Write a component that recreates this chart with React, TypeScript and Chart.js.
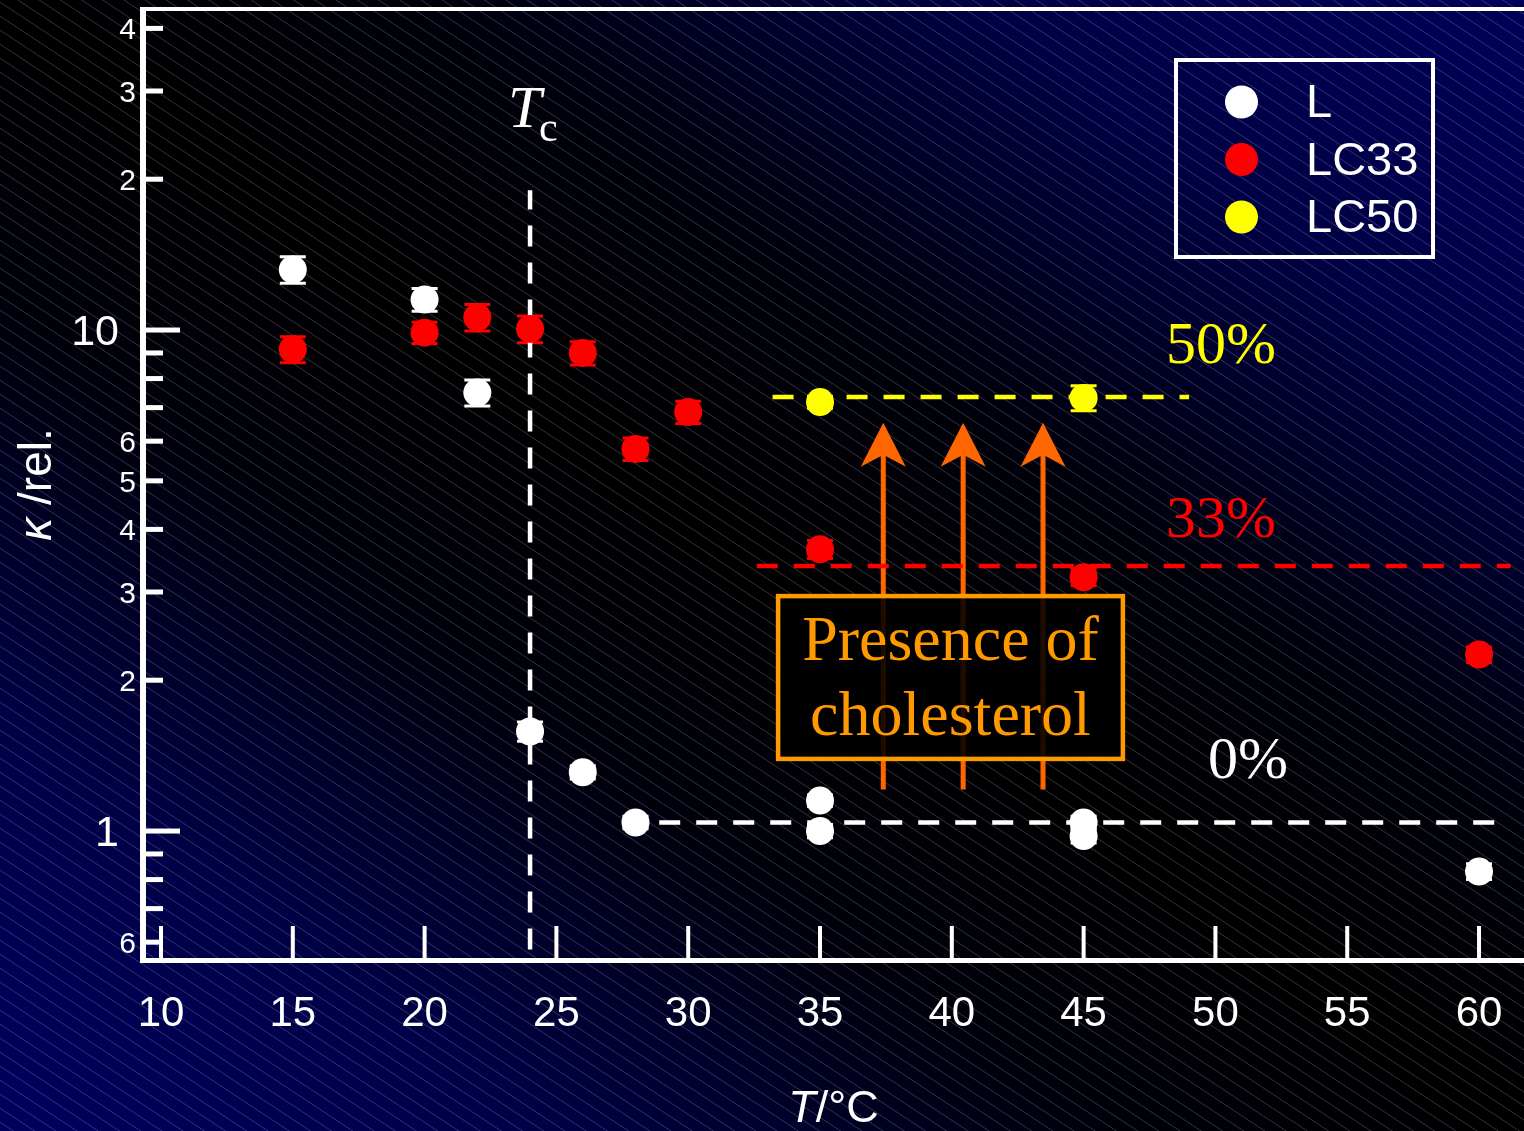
import React, { useEffect, useRef } from "react";
import { Chart, registerables } from "chart.js";

Chart.register(...registerables);

// ---- measured bending rigidity (relative) versus temperature ----
const tempL = [15, 20, 22, 24, 26, 28, 35, 35, 45, 45, 60];
const kappaL = [13.2, 11.5, 7.5, 1.58, 1.31, 1.04, 1.15, 1.0, 1.04, 0.977, 0.83];
const errL = [0.8, 0.6, 0.45, 0.07, 0.04, 0.03, 0.03, 0.03, 0.03, 0.03, 0.03];

const tempLC33 = [15, 20, 22, 24, 26, 28, 30, 35, 45, 60];
const kappaLC33 = [9.15, 9.88, 10.6, 10.05, 9.0, 5.79, 6.86, 3.65, 3.21, 2.25];
const errLC33 = [0.55, 0.48, 0.65, 0.62, 0.48, 0.3, 0.35, 0.15, 0.12, 0.08];

const tempLC50 = [35, 45];
const kappaLC50 = [7.18, 7.32];
const errLC50 = [0.2, 0.42];

// ---- guide lines (data units) ----
const tcLineT = [24, 24];
const tcLineK = [0.58, 19];
const level0T = [28.9, 60.8];
const level0K = 1.04;
const level33T = [32.6, 61.2];
const level33K = 3.38;
const level50T = [33.2, 49.0];
const level50K = 7.35;

// ---- axes ----
const xMin = 9.317;
const xMax = 61.706;
const yMin = 0.5528;
const yMax = 43.73;
const xTickValues = [10, 15, 20, 25, 30, 35, 40, 45, 50, 55, 60];
const xTickLabels = ["10", "15", "20", "25", "30", "35", "40", "45", "50", "55", "60"];
const yTickValues = [0.6, 0.7, 0.8, 0.9, 1, 2, 3, 4, 5, 6, 7, 8, 9, 10, 20, 30, 40];
const yTickLabels = ["6", "", "", "", "1", "2", "3", "4", "5", "6", "", "", "", "10", "2", "3", "4"];
const yMajorTicks = [1, 10];

// ---- annotation: cholesterol arrows and box ----
const arrowT = [37.4, 40.43, 43.46];
const arrowK = [1.21, 6.53];
const boxT = [33.41, 46.49];
const boxK = [1.393, 2.944];
const boxLines = ["Presence of", "cholesterol"];
const boxTextT = 39.95;
const boxTextK = [2.373, 1.681];

// ---- level labels ----
const levelLabels = ["50%", "33%", "0%"];
const levelLabelT = [50.21, 50.21, 51.24];
const levelLabelK = [9.25, 4.157, 1.373];
const levelLabelColors = ["#ffff00", "#ff0000", "#ffffff"];

const tcLabelT = 24;
const tcLabelK = 25.4;

const SANS = "'Liberation Sans', Arial, sans-serif";
const SERIF = "'Liberation Serif', 'Times New Roman', serif";

const points = (xs: number[], ys: number[]) => xs.map((x, i) => ({ x, y: ys[i] }));

const backdrop = {
  id: "backdrop",
  beforeDraw(chart: any) {
    const { ctx, width, height } = chart;
    ctx.save();
    const cx = width / 2;
    const cy = height / 2;
    const len = Math.hypot(width, height);
    const nx = height / len;
    const ny = -width / len;
    const half = (width * height) / len;
    const g = ctx.createLinearGradient(cx - nx * half, cy - ny * half, cx + nx * half, cy + ny * half);
    g.addColorStop(0, "#00005e");
    g.addColorStop(0.18, "#000046");
    g.addColorStop(0.36, "#00000a");
    g.addColorStop(0.5, "#000000");
    g.addColorStop(0.64, "#00000a");
    g.addColorStop(0.82, "#000044");
    g.addColorStop(1, "#000058");
    ctx.fillStyle = g;
    ctx.fillRect(0, 0, width, height);
    // fine diagonal hatching
    ctx.strokeStyle = "rgba(170,170,200,0.3)";
    ctx.lineWidth = 1;
    ctx.beginPath();
    const slope = 0.66;
    const step = 14;
    for (let c = -slope * width; c < height; c += step) {
      ctx.moveTo(0, c);
      ctx.lineTo(width, c + slope * width);
    }
    ctx.stroke();
    ctx.restore();
  },
};

const errorBars = {
  id: "errorBars",
  beforeDatasetsDraw(chart: any) {
    const { ctx } = chart;
    const xs = chart.scales.x;
    const ys = chart.scales.y;
    ctx.save();
    chart.data.datasets.forEach((ds: any) => {
      if (!ds.errors) return;
      ctx.strokeStyle = ds.backgroundColor;
      ctx.lineWidth = 3;
      ds.data.forEach((p: any, i: number) => {
        const e = ds.errors[i];
        const px = xs.getPixelForValue(p.x);
        const yTop = ys.getPixelForValue(p.y + e);
        const yBot = ys.getPixelForValue(p.y - e);
        ctx.beginPath();
        ctx.moveTo(px, yTop);
        ctx.lineTo(px, yBot);
        ctx.moveTo(px - 13, yTop);
        ctx.lineTo(px + 13, yTop);
        ctx.moveTo(px - 13, yBot);
        ctx.lineTo(px + 13, yBot);
        ctx.stroke();
      });
    });
    ctx.restore();
  },
};

const cholesterolNote = {
  id: "cholesterolNote",
  beforeDatasetsDraw(chart: any) {
    const { ctx } = chart;
    const xs = chart.scales.x;
    const ys = chart.scales.y;
    ctx.save();
    const orange = "#ff6600";
    arrowT.forEach((t) => {
      const px = xs.getPixelForValue(t);
      const yB = ys.getPixelForValue(arrowK[0]);
      const yT = ys.getPixelForValue(arrowK[1]);
      ctx.strokeStyle = orange;
      ctx.lineWidth = 5;
      ctx.beginPath();
      ctx.moveTo(px, yB);
      ctx.lineTo(px, yT + 28);
      ctx.stroke();
      ctx.fillStyle = orange;
      ctx.beginPath();
      ctx.moveTo(px, yT);
      ctx.lineTo(px + 22.5, yT + 44);
      ctx.lineTo(px, yT + 32);
      ctx.lineTo(px - 22.5, yT + 44);
      ctx.closePath();
      ctx.fill();
    });
    const bx0 = xs.getPixelForValue(boxT[0]);
    const bx1 = xs.getPixelForValue(boxT[1]);
    const by0 = ys.getPixelForValue(boxK[1]);
    const by1 = ys.getPixelForValue(boxK[0]);
    ctx.fillStyle = "rgba(0,0,0,0.88)";
    ctx.fillRect(bx0, by0, bx1 - bx0, by1 - by0);
    ctx.strokeStyle = "#ff9900";
    ctx.lineWidth = 4.5;
    ctx.strokeRect(bx0, by0, bx1 - bx0, by1 - by0);
    ctx.fillStyle = "#ff9900";
    ctx.font = `64px ${SERIF}`;
    ctx.textAlign = "center";
    ctx.textBaseline = "middle";
    boxLines.forEach((line, i) => {
      ctx.fillText(line, xs.getPixelForValue(boxTextT), ys.getPixelForValue(boxTextK[i]));
    });
    ctx.restore();
  },
};

const frameAndLabels = {
  id: "frameAndLabels",
  afterDatasetsDraw(chart: any) {
    const { ctx, width } = chart;
    const { left, top, bottom } = chart.chartArea;
    const xs = chart.scales.x;
    const ys = chart.scales.y;
    ctx.save();
    ctx.fillStyle = "#ffffff";
    // frame
    ctx.fillRect(left - 3, top - 2, width - left + 3, 4);
    ctx.fillRect(left - 3, top - 2, 6, bottom - top + 5);
    ctx.fillRect(left - 3, bottom - 2, width - left + 3, 5);
    // x ticks (inward) and labels
    ctx.font = `42px ${SANS}`;
    ctx.textAlign = "center";
    ctx.textBaseline = "alphabetic";
    xTickValues.forEach((v, i) => {
      const px = xs.getPixelForValue(v);
      ctx.fillRect(px - 2, bottom - 34, 4, 34);
      ctx.fillText(xTickLabels[i], px, bottom + 66);
    });
    // y ticks (inward) and labels
    ctx.textAlign = "right";
    yTickValues.forEach((v, i) => {
      const py = ys.getPixelForValue(v);
      const major = yMajorTicks.includes(v);
      ctx.fillRect(left, py - 2.5, major ? 37 : 20, 5);
      const lab = yTickLabels[i];
      if (!lab) return;
      const size = major ? 43 : 30;
      ctx.font = `${size}px ${SANS}`;
      ctx.fillText(lab, major ? left - 24 : left - 7, py + size * 0.358);
    });
    // x title: T/°C
    ctx.textAlign = "left";
    const tFont = `italic 45px ${SANS}`;
    const rFont = `45px ${SANS}`;
    ctx.font = tFont;
    const wT = ctx.measureText("T").width;
    ctx.font = rFont;
    const wR = ctx.measureText("/°C").width;
    const xStart = (left + width) / 2 - (wT + wR) / 2;
    ctx.font = tFont;
    ctx.fillText("T", xStart, bottom + 162);
    ctx.font = rFont;
    ctx.fillText("/°C", xStart + wT, bottom + 162);
    // y title: κ /rel.
    ctx.save();
    ctx.translate(51, (top + bottom) / 2);
    ctx.rotate(-Math.PI / 2);
    ctx.font = `italic 46px ${SANS}`;
    const wK = ctx.measureText("κ").width;
    ctx.font = `46px ${SANS}`;
    const wRel = ctx.measureText(" /rel.").width;
    const s = -(wK + wRel) / 2;
    ctx.font = `italic 46px ${SANS}`;
    ctx.fillText("κ", s, 0);
    ctx.font = `46px ${SANS}`;
    ctx.fillText(" /rel.", s + wK, 0);
    ctx.restore();
    // T_c label
    const tcx = xs.getPixelForValue(tcLabelT);
    const tcy = ys.getPixelForValue(tcLabelK);
    ctx.font = `italic 60px ${SERIF}`;
    ctx.fillText("T", tcx - 22, tcy);
    ctx.font = `42px ${SERIF}`;
    ctx.fillText("c", tcx + 9, tcy + 14);
    // concentration levels
    ctx.font = `60px ${SERIF}`;
    ctx.textAlign = "center";
    ctx.textBaseline = "middle";
    levelLabels.forEach((lab, i) => {
      ctx.fillStyle = levelLabelColors[i];
      ctx.fillText(lab, xs.getPixelForValue(levelLabelT[i]), ys.getPixelForValue(levelLabelK[i]));
    });
    // legend
    const series = chart.data.datasets.filter((d: any) => d.errors);
    ctx.strokeStyle = "#ffffff";
    ctx.lineWidth = 4;
    ctx.strokeRect(1176, 60, 257, 197);
    ctx.textAlign = "left";
    ctx.textBaseline = "alphabetic";
    ctx.font = `47px ${SANS}`;
    series.forEach((d: any, i: number) => {
      const cy = 102 + i * 57.5;
      ctx.fillStyle = d.backgroundColor;
      ctx.beginPath();
      ctx.arc(1241.5, cy, 16.5, 0, Math.PI * 2);
      ctx.fill();
      ctx.fillStyle = "#ffffff";
      ctx.fillText(d.label, 1306, cy + 15);
    });
    ctx.restore();
  },
};

export default function App() {
  const canvasRef = useRef<HTMLCanvasElement | null>(null);

  useEffect(() => {
    document.body.style.margin = "0";
    document.body.style.overflow = "hidden";
    document.body.style.background = "#000";
    const canvas = canvasRef.current;
    if (!canvas) return;

    const guide = (xs: number[], ys: number[], color: string) => ({
      label: "",
      data: points(xs, ys),
      showLine: true,
      borderColor: color,
      borderWidth: 4.5,
      borderDash: [21, 16],
      pointRadius: 0,
      order: 10,
    });

    const series = (label: string, xs: number[], ys: number[], errs: number[], color: string, order: number) => ({
      label,
      data: points(xs, ys),
      errors: errs,
      backgroundColor: color,
      borderColor: color,
      borderWidth: 0,
      pointRadius: 14,
      pointHoverRadius: 14,
      order,
    });

    const chart = new Chart(canvas, {
      type: "scatter",
      data: {
        datasets: [
          series("L", tempL, kappaL, errL, "#ffffff", 2),
          series("LC33", tempLC33, kappaLC33, errLC33, "#ff0000", 1),
          series("LC50", tempLC50, kappaLC50, errLC50, "#ffff00", 0),
          guide(tcLineT, tcLineK, "#ffffff"),
          guide(level0T, [level0K, level0K], "#ffffff"),
          guide(level33T, [level33K, level33K], "#ff0000"),
          guide(level50T, [level50K, level50K], "#ffff00"),
        ] as any,
      },
      options: {
        responsive: false,
        animation: false,
        events: [],
        layout: { autoPadding: false, padding: { left: 143, top: 9, right: 0, bottom: 171 } },
        plugins: { legend: { display: false }, tooltip: { enabled: false } },
        scales: {
          x: { type: "linear", min: xMin, max: xMax, display: false },
          y: { type: "logarithmic", min: yMin, max: yMax, display: false },
        },
      },
      plugins: [backdrop, errorBars, cholesterolNote, frameAndLabels],
    });
    return () => chart.destroy();
  }, []);

  return (
    <div style={{ position: "absolute", left: 0, top: 0, width: 1524, height: 1131 }}>
      <canvas ref={canvasRef} width={1524} height={1131} style={{ display: "block" }} />
    </div>
  );
}
